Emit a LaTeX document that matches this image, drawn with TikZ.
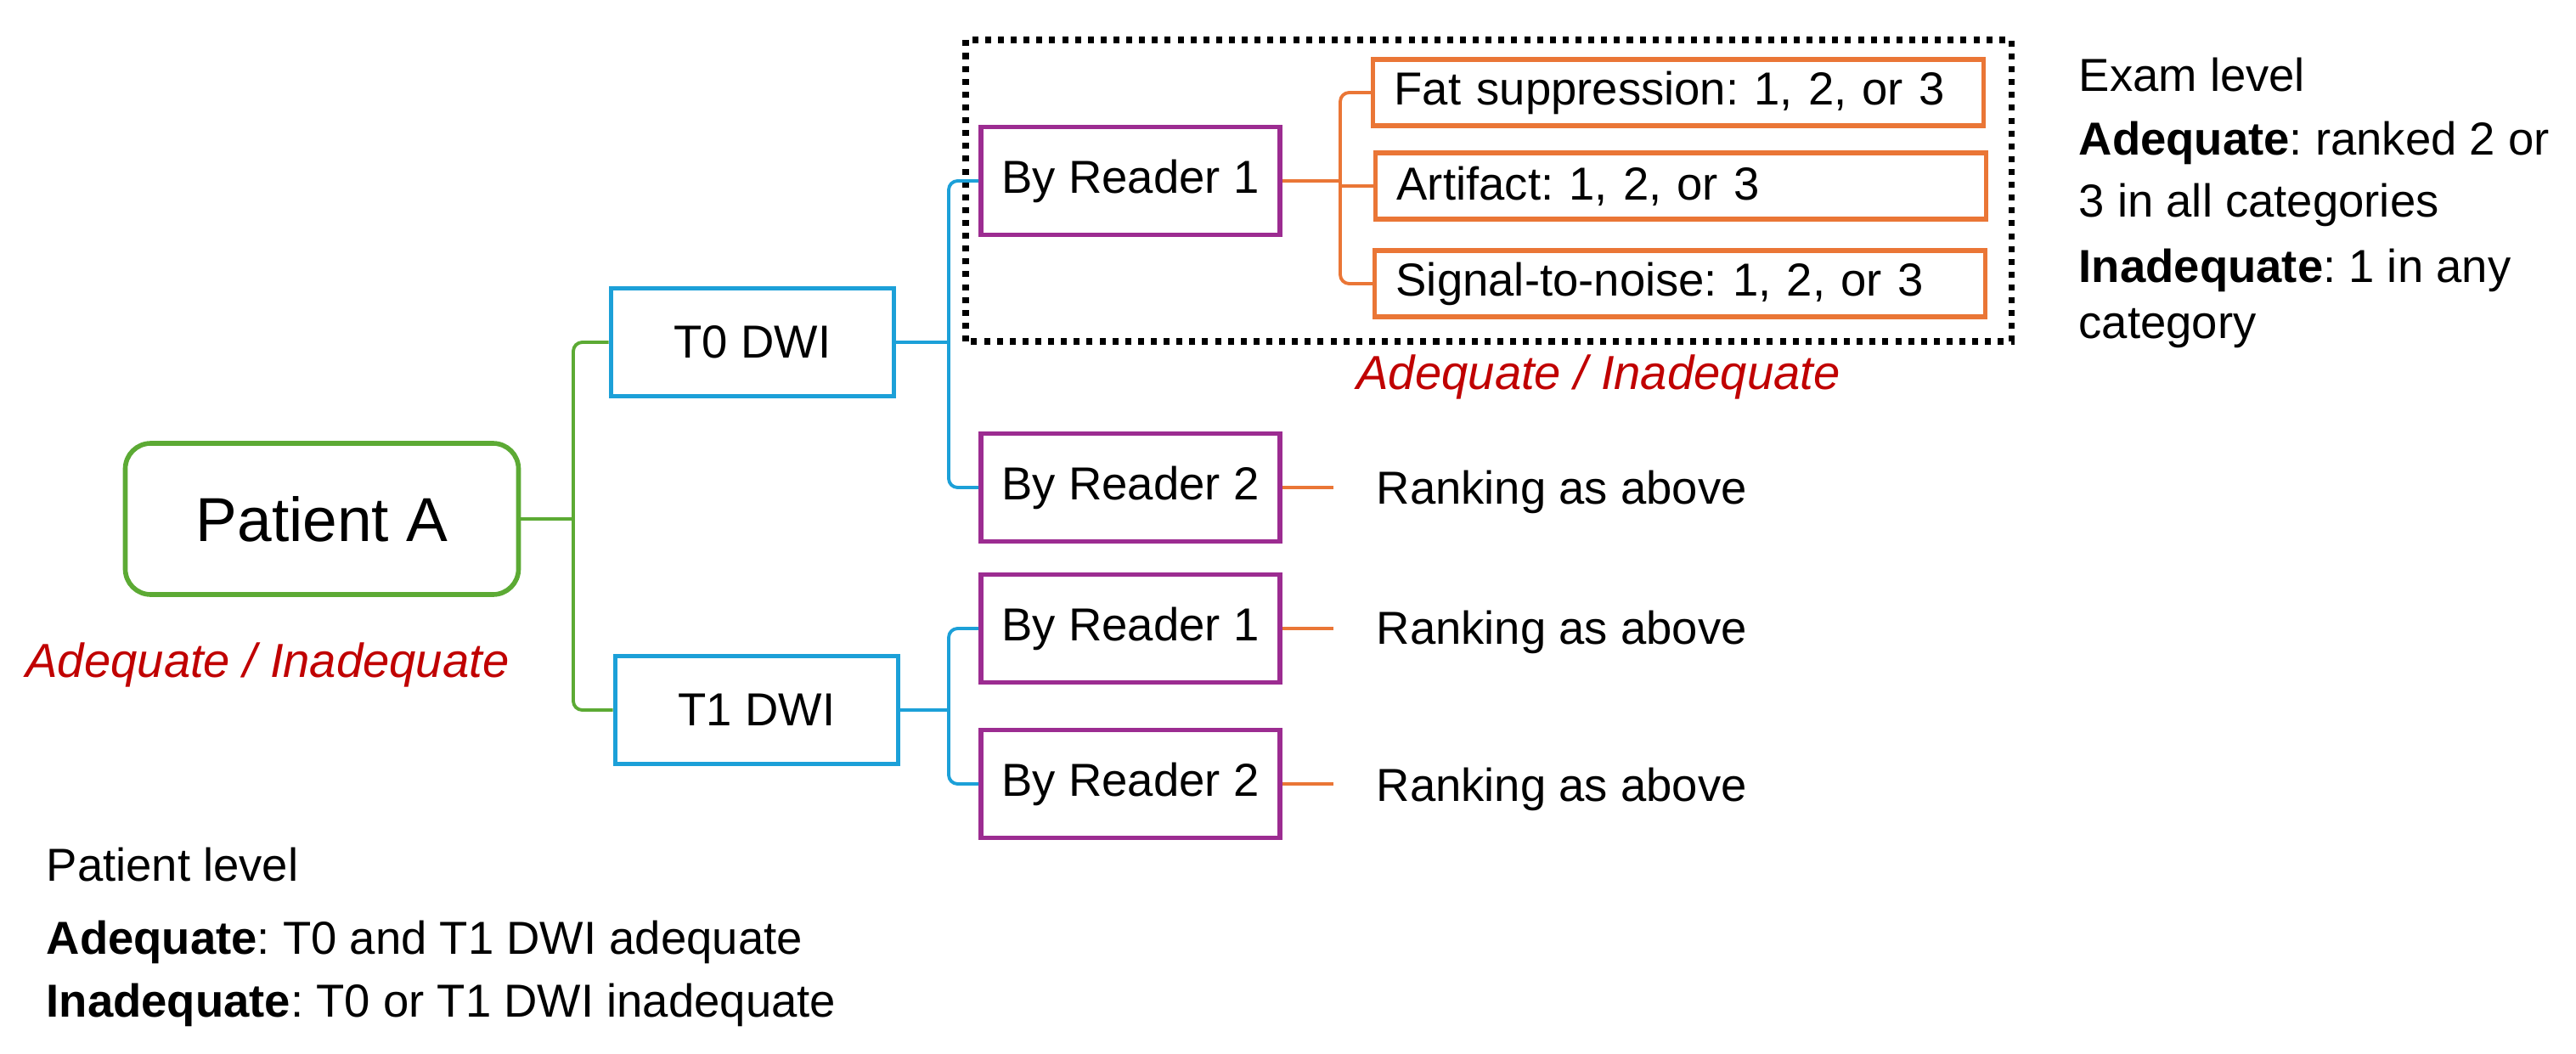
\documentclass[tikz,border=0pt]{standalone}
\usepackage{fontspec}
\setmainfont{Liberation Sans}
\frenchspacing

\definecolor{pgreen}{RGB}{92,170,52}
\definecolor{dblue}{RGB}{28,160,216}
\definecolor{rpurple}{RGB}{156,44,145}
\definecolor{corange}{RGB}{234,118,54}
\definecolor{adqred}{RGB}{192,0,0}

\newcommand{\mainsize}{\fontsize{15.5}{18.6}\selectfont}

\tikzset{
  patbox/.style={draw=pgreen, line width=1.6pt, rounded corners=0.3cm,
    minimum width=4.63cm, minimum height=1.78cm, font=\fontsize{20.8}{25}\selectfont},
  dwibox/.style={draw=dblue, line width=1.6pt, minimum width=3.33cm, minimum height=1.27cm},
  readbox/.style={draw=rpurple, line width=1.6pt, minimum width=3.52cm, minimum height=1.27cm},
  catbox/.style={draw=corange, line width=1.5pt, anchor=west, minimum height=0.78cm,
    text width=6.69cm, inner xsep=0.25cm, align=left},
  redlbl/.style={text=adqred, anchor=base, inner sep=0, font=\fontsize{16}{19}\selectfont\itshape},
  txt/.style={anchor=base west, inner sep=0},
  gline/.style={draw=pgreen, line width=1.1pt, rounded corners=3pt},
  bline/.style={draw=dblue, line width=1.1pt, rounded corners=3pt},
  oline/.style={draw=corange, line width=1.1pt, rounded corners=3pt},
  examframe/.style={draw=black, line width=2pt, dash pattern=on 2pt off 2.3pt}
}

\begin{document}
\begin{tikzpicture}[font=\mainsize]
  \useasboundingbox (0,0) rectangle (30.33,12.40);

  % patient and time points
  \node[patbox] (pat) at (3.79,6.29) {Patient A};
  \node[redlbl] (patq) at (3.15,4.43) {Adequate / Inadequate};
  \node[dwibox] (t0) at (8.86,8.37) {T0 DWI};
  \node[dwibox] (t1) at (8.91,4.04) {T1 DWI};

  % readers
  \node[readbox] (r01) at (13.31,10.27) {By Reader 1};
  \node[readbox] (r02) at (13.31,6.66) {By Reader 2};
  \node[readbox] (r11) at (13.31,5.00) {By Reader 1};
  \node[readbox] (r12) at (13.31,3.17) {By Reader 2};

  % categories
  \node[catbox] (fat) at (16.14,11.31) {Fat suppression: 1, 2, or 3};
  \node[catbox] (art) at (16.17,10.21) {Artifact: 1, 2, or 3};
  \node[catbox] (snr) at (16.16,9.06) {Signal-to-noise: 1, 2, or 3};
  \draw[examframe] (11.37,8.38) rectangle (23.68,11.93);
  \node[redlbl] (examq) at (18.82,7.82) {Adequate / Inadequate};

  \node[txt] (rk02) at (16.20,6.47) {Ranking as above};
  \node[txt] (rk11) at (16.20,4.82) {Ranking as above};
  \node[txt] (rk12) at (16.20,2.97) {Ranking as above};

  % exam level
  \node[txt] (ex1) at (24.47,11.32) {Exam level};
  \node[txt] (ex2) at (24.47,10.58) {\textbf{Adequate}: ranked 2 or};
  \node[txt] (ex3) at (24.47,9.85) {3 in all categories};
  \node[txt] (ex4) at (24.47,9.08) {\textbf{Inadequate}: 1 in any};
  \node[txt] (ex5) at (24.47,8.42) {category};

  % patient level
  \node[txt] (pl1) at (0.54,2.03) {Patient level};
  \node[txt] (pl2) at (0.54,1.17) {\textbf{Adequate}: T0 and T1 DWI adequate};
  \node[txt] (pl3) at (0.54,0.43) {\textbf{Inadequate}: T0 or T1 DWI inadequate};

  % connectors
  \coordinate (gtrunk) at (6.75,0);
  \coordinate (btrunk) at (11.17,0);
  \coordinate (otrunk) at (15.78,0);
  \coordinate (stub) at (15.70,0);

  \draw[gline] (pat.east) -- (pat.east -| gtrunk);
  \draw[gline] (t0.west) -- (t0.west -| gtrunk) -- (t1.west -| gtrunk) -- (t1.west);
  \draw[bline] (t0.east) -- (t0.east -| btrunk);
  \draw[bline] (r01.west) -- (r01.west -| btrunk) -- (r02.west -| btrunk) -- (r02.west);
  \draw[bline] (t1.east) -- (t1.east -| btrunk);
  \draw[bline] (r11.west) -- (r11.west -| btrunk) -- (r12.west -| btrunk) -- (r12.west);
  \draw[oline] (r01.east) -- (r01.east -| otrunk);
  \draw[oline] (fat.west) -- (fat.west -| otrunk) -- (snr.west -| otrunk) -- (snr.west);
  \draw[oline] (art.west) -- (art.west -| otrunk);
  \foreach \r in {r02,r11,r12}
    \draw[oline] (\r.east) -- (\r.east -| stub);
\end{tikzpicture}
\end{document}
